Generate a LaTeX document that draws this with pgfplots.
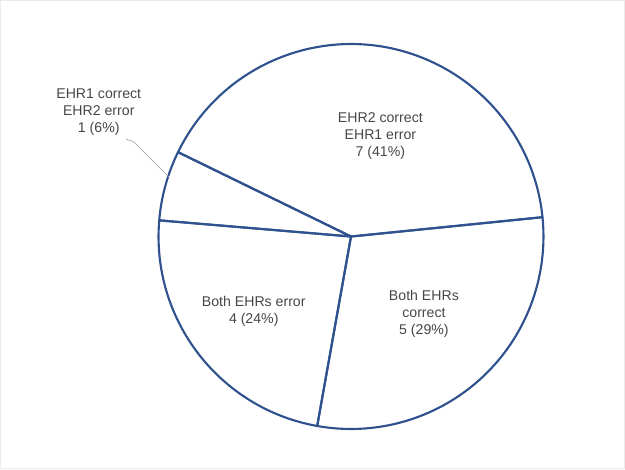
\documentclass[border=0pt]{standalone}
\usepackage{pgfplots}
\pgfplotsset{compat=1.18}
\usepackage{pgfplotstable}
\usepackage{fontspec}
\setmainfont{Liberation Sans}
\definecolor{pieblue}{RGB}{47,82,143}
\definecolor{labelgray}{RGB}{70,70,70}
\definecolor{leadergray}{RGB}{170,170,170}

\pgfplotstableread{
value
7
5
4
1
}\piedata

\begin{document}
\begin{tikzpicture}
\begin{axis}[scale only axis, width=625bp, height=473bp,
  xmin=0, xmax=625, ymin=0, ymax=473, hide axis, clip=false]
\draw[black!8, line width=1bp] (axis cs:6,5) rectangle (axis cs:622,467);
\pgfplotstablegetrowsof{\piedata}
\pgfmathtruncatemacro\nrows{\pgfplotsretval-1}
\def\pietotal{0}
\pgfplotsforeachungrouped \i in {0,...,\nrows}{%
  \pgfplotstablegetelem{\i}{value}\of\piedata
  \pgfmathsetmacro\pietotal{\pietotal+\pgfplotsretval}%
}
\def\cum{154}
\pgfplotsforeachungrouped \i in {0,...,\nrows}{%
  \pgfplotstablegetelem{\i}{value}\of\piedata
  \pgfmathsetmacro\endang{\cum-\pgfplotsretval*360/\pietotal}%
  \edef\temp{\noexpand\draw[pieblue, line width=2.1bp, line join=round] (axis cs:352,234) -- ++(\cum:190bp) arc[start angle=\cum, end angle=\endang, radius=190bp] -- cycle;}%
  \temp
  \global\let\cum\endang
}
\draw[leadergray, line width=0.7bp] (axis cs:130,330) -- (axis cs:137,328) -- (axis cs:172,293);
\tikzset{lbl/.style={align=center, text=labelgray, font=\fontsize{14}{16.8}\selectfont, inner sep=0pt}}
\node[lbl] at (axis cs:381,333) {EHR2 correct\\EHR1 error\\7 (41\%)};
\node[lbl] at (axis cs:424,158) {Both EHRs\\correct\\5 (29\%)};
\node[lbl] at (axis cs:256,160) {Both EHRs error\\4 (24\%)};
\node[lbl] at (axis cs:103,357) {EHR1 correct\\EHR2 error\\1 (6\%)};
\end{axis}
\end{tikzpicture}
\end{document}
